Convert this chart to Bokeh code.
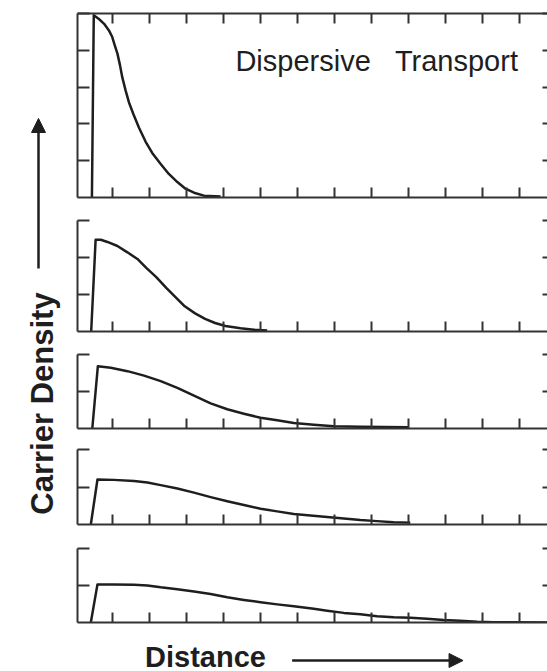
import math
from bokeh.plotting import figure
from bokeh.models import Range1d, LinearAxis, FixedTicker, Label, Arrow, NormalHead
from bokeh.layouts import row, column
from bokeh.embed import file_html
from bokeh.resources import INLINE
from bokeh.core.properties import value

# ---- data (distance and density, in tick units) ----
dist1 = [0.44, 0.49, 0.63, 0.77, 0.90, 0.99, 1.06, 1.13, 1.20, 1.26, 1.35, 1.44, 1.56, 1.71,
         1.89, 2.07, 2.30, 2.52, 2.75, 2.97, 3.20, 3.47, 3.92]
dens1 = [0.00, 4.95, 4.85, 4.72, 4.54, 4.36, 4.13, 3.91, 3.59, 3.27, 2.91, 2.59, 2.27, 1.90,
         1.52, 1.21, 0.91, 0.64, 0.42, 0.24, 0.13, 0.05, 0.03]

dist2 = [0.42, 0.54, 0.68, 0.86, 1.13, 1.40, 1.67, 1.91, 2.18, 2.45, 2.72, 2.95, 3.23, 3.50,
         3.77, 4.05, 4.46, 4.82, 5.18]
dens2 = [0.00, 2.48, 2.48, 2.42, 2.31, 2.14, 1.96, 1.72, 1.47, 1.18, 0.91, 0.68, 0.49, 0.34,
         0.23, 0.15, 0.09, 0.05, 0.03]

dist3 = [0.45, 0.60, 0.95, 1.40, 1.85, 2.30, 2.75, 3.20, 3.65, 4.10, 4.55, 5.00, 5.45, 5.90,
         6.44, 6.98, 7.70, 9.00]
dens3 = [0.00, 1.68, 1.64, 1.55, 1.43, 1.28, 1.10, 0.89, 0.68, 0.52, 0.40, 0.29, 0.22, 0.15,
         0.10, 0.06, 0.05, 0.035]

dist4 = [0.41, 0.59, 1.03, 1.58, 1.94, 2.30, 2.75, 3.20, 3.65, 4.10, 4.55, 5.00, 5.45, 5.90,
         6.35, 6.80, 7.25, 7.70, 8.15, 8.60, 9.05]
dens4 = [0.00, 1.20, 1.19, 1.16, 1.12, 1.05, 0.96, 0.85, 0.73, 0.62, 0.52, 0.42, 0.35, 0.28,
         0.24, 0.20, 0.16, 0.12, 0.09, 0.06, 0.05]

dist5 = [0.41, 0.59, 1.03, 1.58, 1.94, 2.30, 2.75, 3.20, 3.65, 4.10, 4.55, 5.00, 5.45, 5.90,
         6.44, 6.80, 7.25, 7.70, 8.15, 8.60, 9.05, 9.50, 9.95, 10.40, 10.86, 11.30, 12.75]
dens5 = [0.00, 1.03, 1.03, 1.02, 1.00, 0.95, 0.90, 0.84, 0.77, 0.68, 0.61, 0.55, 0.49, 0.44,
         0.37, 0.32, 0.26, 0.22, 0.17, 0.14, 0.13, 0.10, 0.07, 0.05, 0.02, 0.01, 0.00]

x_ticks = list(range(1, 13))
panel_tops = [5, 3, 2, 2, 2]
title_text = "Dispersive\u00a0\u00a0\u00a0Transport"
y_label = "Carrier Density"
x_label = "Distance"

FONT = "Liberation Sans"
INK = "#1e1e1e"
AX = "#333333"

# layout (figure height, top border, bottom border)
geom = [(208, 13, 11), (134, 12, 11), (96, 12, 10), (97, 11, 11), (97, 13, 10)]
BOTTOM_H = 39
LEFT_W = 74
PANEL_W = 473


def style_axis(ax, tick_in, line=True):
    ax.major_tick_in = tick_in
    ax.major_tick_out = 0
    ax.minor_tick_line_color = None
    ax.major_label_text_color = None
    ax.major_label_text_font_size = "1px"
    ax.major_label_standoff = 0
    ax.axis_line_color = AX if line else None
    ax.axis_line_width = 2
    ax.major_tick_line_color = AX
    ax.major_tick_line_width = 2


def make_panel(xs, ys, ymax, h, top, bottom, top_axis=False):
    p = figure(width=PANEL_W, height=h, x_range=Range1d(0.05, 12.76), y_range=Range1d(0, ymax),
               x_axis_type=None, y_axis_type=None, toolbar_location=None,
               output_backend="svg", min_border_left=3, min_border_right=0,
               min_border_top=top, min_border_bottom=bottom)
    p.outline_line_color = None
    p.background_fill_color = "white"
    p.border_fill_color = "white"
    yt = list(range(1, ymax + 1))
    b = LinearAxis(ticker=FixedTicker(ticks=x_ticks))
    style_axis(b, 10)
    p.add_layout(b, "below")
    l = LinearAxis(ticker=FixedTicker(ticks=yt))
    style_axis(l, 12)
    p.add_layout(l, "left")
    r = LinearAxis(ticker=FixedTicker(ticks=yt))
    style_axis(r, 5, line=False)
    p.add_layout(r, "right")
    if top_axis:
        t = LinearAxis(ticker=FixedTicker(ticks=x_ticks))
        style_axis(t, 10)
        p.add_layout(t, "above")
    p.line(xs, ys, line_color=INK, line_width=2.5, line_join="round")
    return p


data = [(dist1, dens1), (dist2, dens2), (dist3, dens3), (dist4, dens4), (dist5, dens5)]
panels = []
for i, ((xs, ys), ymax, (h, t, b)) in enumerate(zip(data, panel_tops, geom)):
    panels.append(make_panel(xs, ys, ymax, h, t, b, top_axis=(i == 0)))

panels[0].add_layout(Label(x=4.32, y=3.72, text=title_text, text_font=FONT,
                           text_font_size="29px", text_color=INK, text_align="left",
                           text_baseline="middle"))

# bottom label strip
bf = figure(width=PANEL_W, height=BOTTOM_H, x_range=Range1d(0, PANEL_W), y_range=Range1d(0, BOTTOM_H),
            x_axis_type=None, y_axis_type=None, toolbar_location=None,
            output_backend="svg", min_border=0)
bf.outline_line_color = None
bf.text(x=[68], y=[15], text=[x_label], text_font=value(FONT), text_font_style="bold",
        text_font_size="29px", text_color=INK, text_align="left", text_baseline="middle")
bf.add_layout(Arrow(end=NormalHead(size=14, fill_color=INK, line_color=INK),
                    x_start=216, y_start=11, x_end=388, y_end=11,
                    line_width=2.5, line_color=INK))

# left label strip
total_h = sum(g[0] for g in geom) + BOTTOM_H
lf = figure(width=LEFT_W, height=total_h, x_range=Range1d(0, LEFT_W), y_range=Range1d(0, total_h),
            x_axis_type=None, y_axis_type=None, toolbar_location=None,
            output_backend="svg", min_border=0)
lf.outline_line_color = None
lf.text(x=[42], y=[268], text=[y_label], angle=math.pi / 2, text_font=value(FONT),
        text_font_style="bold", text_font_size="31px", text_color=INK,
        text_align="center", text_baseline="middle")
lf.add_layout(Arrow(end=NormalHead(size=14, fill_color=INK, line_color=INK),
                    x_start=38, y_start=403, x_end=38, y_end=553,
                    line_width=2.5, line_color=INK))

layout = row(lf, column(*panels, bf, spacing=0), spacing=0)
open("out.html", "w").write(file_html(layout, INLINE))
